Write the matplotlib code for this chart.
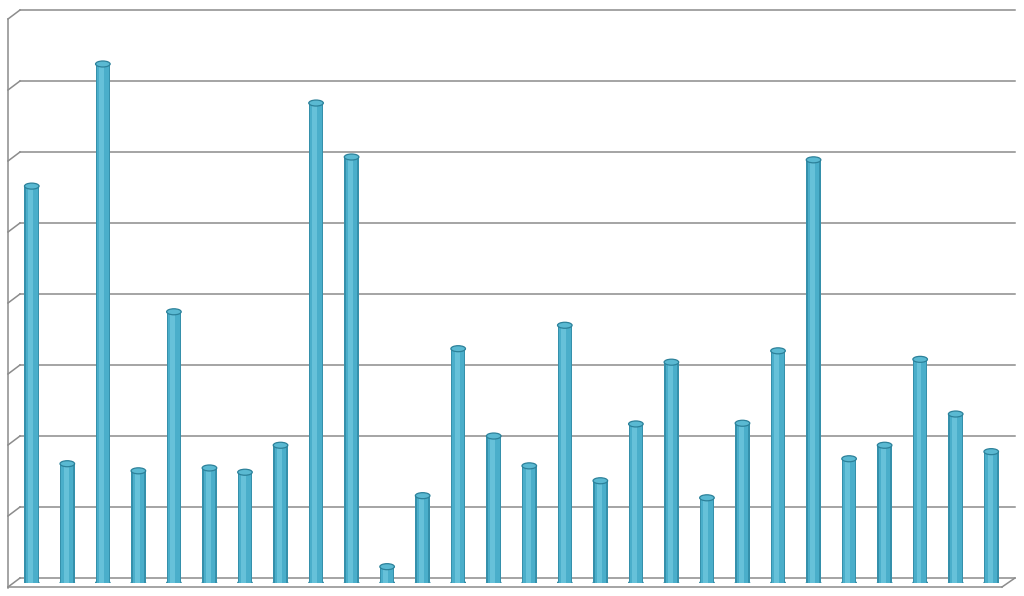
import matplotlib
matplotlib.use("Agg")
import matplotlib.pyplot as plt
from matplotlib.patches import Ellipse

# values (no axis labels shown; unit = one gridline step)
categories = list(range(1, 29))
values = [5.59, 1.68, 7.31, 1.58, 3.82, 1.62, 1.56, 1.94, 6.76, 6.00,
          0.23, 1.23, 3.30, 2.07, 1.65, 3.63, 1.44, 2.24, 3.11, 1.20,
          2.25, 3.27, 5.96, 1.75, 1.94, 3.15, 2.38, 1.85]
grid_levels = list(range(0, 9))

W, H = 1024, 596
fig = plt.figure(figsize=(W / 100, H / 100), dpi=100)
fig.patch.set_facecolor("white")

# 3D frame drawn in pixel space behind the bars
frame = fig.add_axes([0, 0, 1, 1], zorder=0)
frame.set_xlim(0, W)
frame.set_ylim(H, 0)
frame.axis("off")
gc = "#8c8c8c"
back_x0, back_x1 = 20, 1015
back_y0, step = 578, 71
for k in grid_levels:
    y = back_y0 - k * step
    frame.plot([back_x0, back_x1], [y, y], color=gc, lw=1.1)
    frame.plot([8, back_x0], [y + 9, y], color=gc, lw=1.1)
frame.plot([8, 8], [back_y0 - 8 * step + 9, 588], color=gc, lw=1.1)
frame.plot([8, 1002], [587, 587], color=gc, lw=1.1)
frame.plot([1002, back_x1], [587, back_y0], color=gc, lw=1.1)

# bars live on a data axis aligned with the mid-depth of the 3D box
px_per_unit = 71.0
base_px = 583
ax = fig.add_axes([14 / W, (H - base_px) / H, 995 / W, 8 * px_per_unit / H], zorder=1)
ax.patch.set_alpha(0)
ax.set_xlim(-0.5, len(categories) - 0.5)
ax.set_ylim(0, 8)
ax.axis("off")

x = list(range(len(categories)))
bw = 0.41
ell_h = 6.0 / px_per_unit
ax.bar(x, values, width=bw, color="#3590ab", zorder=2)
ax.bar(x, values, width=bw * 0.80, color="#4aaeca", zorder=3)
ax.bar([i - bw * 0.08 for i in x], values, width=bw * 0.34, color="#66c1d9", zorder=4)

for i, v in zip(x, values):
    ax.add_patch(Ellipse((i, 0), bw, ell_h, facecolor="#3f9fba",
                         edgecolor="#2c819a", lw=0.8, zorder=1))
    ax.add_patch(Ellipse((i, v), bw, ell_h, facecolor="#5ab9d2",
                         edgecolor="#2c819a", lw=0.9, zorder=5))

fig.savefig("out.png", dpi=100)
